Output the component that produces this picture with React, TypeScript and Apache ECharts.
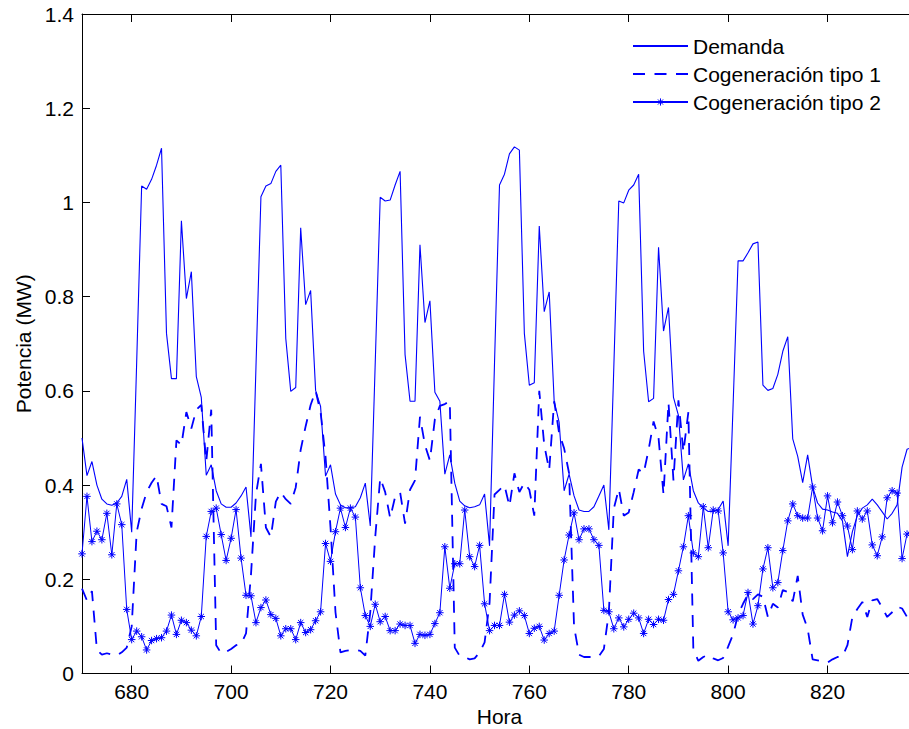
import React, { useEffect, useRef } from 'react';
import * as echarts from 'echarts';

// Hour of the first sample; samples are hourly
const startHour = 670;

const seriesNames = ['Demanda', 'Cogeneración tipo 1', 'Cogeneración tipo 2'];

// Demanda (MW), hours 670..837
const demanda = [
  0.50, 0.42, 0.45, 0.40, 0.37, 0.36, 0.357, 0.362, 0.376, 0.412,
  0.30, 0.66, 1.035, 1.028, 1.049, 1.079, 1.115, 0.722, 0.626, 0.626,
  0.961, 0.796, 0.853, 0.630, 0.586, 0.421, 0.443, 0.388, 0.360, 0.353,
  0.353, 0.362, 0.377, 0.396, 0.290, 0.65, 1.012, 1.035, 1.040, 1.066,
  1.079, 0.711, 0.599, 0.607, 0.946, 0.783, 0.813, 0.601, 0.567, 0.419,
  0.443, 0.381, 0.358, 0.352, 0.352, 0.354, 0.373, 0.404, 0.313, 0.66,
  1.011, 1.003, 1.005, 1.037, 1.066, 0.677, 0.578, 0.578, 0.910, 0.745,
  0.791, 0.597, 0.578, 0.423, 0.464, 0.404, 0.366, 0.356, 0.352, 0.354,
  0.358, 0.381, 0.271, 0.66, 1.037, 1.060, 1.103, 1.118, 1.111, 0.722,
  0.612, 0.617, 0.950, 0.768, 0.810, 0.578, 0.533, 0.388, 0.423, 0.377,
  0.347, 0.344, 0.344, 0.354, 0.377, 0.400, 0.305, 0.65, 1.003, 0.999,
  1.026, 1.037, 1.060, 0.684, 0.577, 0.584, 0.905, 0.727, 0.777, 0.586,
  0.548, 0.411, 0.445, 0.388, 0.362, 0.351, 0.344, 0.344, 0.348, 0.366,
  0.271, 0.57, 0.876, 0.876, 0.893, 0.912, 0.916, 0.612, 0.601, 0.605,
  0.635, 0.684, 0.715, 0.498, 0.461, 0.405, 0.464, 0.396, 0.362, 0.349,
  0.347, 0.343, 0.340, 0.324, 0.248, 0.301, 0.335, 0.351, 0.358, 0.370,
  0.358, 0.343, 0.328, 0.340, 0.358, 0.438, 0.476, 0.48,
];

// Cogeneración tipo 1 (MW), hours 670..837
const cogenTipo1 = [
  0.18, 0.155, 0.175, 0.05, 0.04, 0.043, 0.04, 0.038, 0.045, 0.055,
  0.10, 0.30, 0.35, 0.385, 0.405, 0.42, 0.36, 0.355, 0.31, 0.495,
  0.485, 0.555, 0.52, 0.56, 0.57, 0.45, 0.56, 0.06, 0.043, 0.046,
  0.052, 0.06, 0.063, 0.085, 0.21, 0.38, 0.445, 0.31, 0.29, 0.365,
  0.385, 0.37, 0.36, 0.395, 0.475, 0.525, 0.57, 0.60, 0.555, 0.46,
  0.31, 0.13, 0.045, 0.048, 0.05, 0.05, 0.048, 0.038, 0.13, 0.29,
  0.415, 0.385, 0.33, 0.375, 0.385, 0.318, 0.39, 0.41, 0.545, 0.485,
  0.452, 0.54, 0.568, 0.572, 0.578, 0.055, 0.037, 0.035, 0.03, 0.032,
  0.045, 0.066, 0.15, 0.38, 0.39, 0.40, 0.355, 0.425, 0.385, 0.405,
  0.39, 0.335, 0.60, 0.485, 0.432, 0.578, 0.51, 0.478, 0.425, 0.10,
  0.04, 0.035, 0.035, 0.035, 0.037, 0.052, 0.13, 0.35, 0.392, 0.335,
  0.342, 0.385, 0.433, 0.425, 0.475, 0.535, 0.50, 0.38, 0.575, 0.41,
  0.58, 0.47, 0.555, 0.05, 0.027, 0.035, 0.04, 0.032, 0.028, 0.033,
  0.057, 0.083, 0.125, 0.148, 0.168, 0.158, 0.168, 0.163, 0.12, 0.148,
  0.14, 0.177, 0.173, 0.153, 0.207, 0.125, 0.095, 0.03, 0.028, 0.026,
  0.023, 0.03, 0.035, 0.036, 0.06, 0.12, 0.137, 0.152, 0.12, 0.155,
  0.158, 0.14, 0.12, 0.13, 0.142, 0.138, 0.12, 0.11,
];

// Cogeneración tipo 2 (MW), hours 670..837
const cogenTipo2 = [
  0.254, 0.376, 0.280, 0.302, 0.284, 0.340, 0.252, 0.360, 0.316, 0.136,
  0.072, 0.090, 0.078, 0.050, 0.070, 0.074, 0.076, 0.090, 0.124, 0.083,
  0.113, 0.108, 0.092, 0.080, 0.121, 0.291, 0.344, 0.351, 0.295, 0.240,
  0.287, 0.348, 0.245, 0.166, 0.165, 0.108, 0.140, 0.156, 0.125, 0.117,
  0.080, 0.095, 0.095, 0.072, 0.108, 0.087, 0.093, 0.112, 0.131, 0.276,
  0.238, 0.301, 0.351, 0.310, 0.351, 0.332, 0.182, 0.123, 0.100, 0.147,
  0.110, 0.121, 0.091, 0.091, 0.105, 0.102, 0.102, 0.064, 0.083, 0.081,
  0.083, 0.106, 0.129, 0.269, 0.181, 0.233, 0.233, 0.347, 0.248, 0.227,
  0.272, 0.148, 0.091, 0.102, 0.102, 0.168, 0.109, 0.124, 0.133, 0.123,
  0.085, 0.096, 0.100, 0.071, 0.085, 0.090, 0.166, 0.241, 0.294, 0.341,
  0.284, 0.307, 0.307, 0.284, 0.272, 0.134, 0.131, 0.095, 0.118, 0.099,
  0.115, 0.128, 0.118, 0.085, 0.115, 0.104, 0.115, 0.113, 0.157, 0.168,
  0.218, 0.269, 0.335, 0.256, 0.248, 0.354, 0.267, 0.347, 0.345, 0.256,
  0.131, 0.114, 0.118, 0.123, 0.172, 0.105, 0.144, 0.222, 0.267, 0.182,
  0.193, 0.261, 0.324, 0.360, 0.335, 0.330, 0.330, 0.396, 0.330, 0.303,
  0.377, 0.320, 0.364, 0.335, 0.313, 0.263, 0.345, 0.328, 0.345, 0.273,
  0.250, 0.290, 0.373, 0.388, 0.383, 0.244, 0.296, 0.30,
];

const xMin = 670;
const xMax = 838;
const yMin = 0;
const yMax = 1.4;
const yStep = 0.2;
const xStep = 20;

const FONT = '"Liberation Sans", Arial, Helvetica, sans-serif';
const BLUE = '#0000ff';
const ASTERISK =
  'path://M0,-5L0,5M-5,0L5,0M-3.54,-3.54L3.54,3.54M-3.54,3.54L3.54,-3.54';

const toPairs = (vals: number[]) => vals.map((v, i) => [startHour + i, v]);

const axisLineStyle = { show: true, onZero: false, lineStyle: { color: '#000', width: 1 } };
const tickStyle = { show: true, inside: true, length: 8, lineStyle: { color: '#000', width: 1 } };

export default function App() {
  const ref = useRef<HTMLDivElement>(null);

  useEffect(() => {
    if (!ref.current) return;
    const chart = echarts.init(ref.current, null, { renderer: 'svg' });
    const textBase = { fontFamily: FONT, fontSize: 21, color: '#000' };

    chart.setOption({
      animation: false,
      backgroundColor: '#ffffff',
      grid: {
        left: 82,
        top: 14,
        right: -8,
        bottom: 55.5,
        containLabel: false,
        outerBoundsMode: 'none',
      },
      legend: {
        show: true,
        orient: 'vertical',
        left: 632,
        top: 35.5,
        padding: 0,
        itemWidth: 55,
        itemHeight: 9,
        itemGap: 7,
        selectedMode: false,
        textStyle: { ...textBase, lineHeight: 21 },
        data: [
          { name: seriesNames[0], itemStyle: { opacity: 0 } },
          { name: seriesNames[1], itemStyle: { opacity: 0 } },
          {
            name: seriesNames[2],
            itemStyle: { color: BLUE, borderColor: BLUE, borderWidth: 1 },
          },
        ],
      },
      xAxis: [
        {
          type: 'value',
          min: xMin,
          max: xMax,
          splitNumber: 8,
          minInterval: xStep,
          maxInterval: xStep,
          axisLine: axisLineStyle,
          axisTick: tickStyle,
          axisLabel: {
            ...textBase,
            margin: 7,
            showMinLabel: false,
            showMaxLabel: false,
          },
          splitLine: { show: false },
          name: 'Hora',
          nameLocation: 'middle',
          nameGap: 30,
          nameTextStyle: textBase,
        },
        {
          type: 'value',
          position: 'top',
          min: xMin,
          max: xMax,
          splitNumber: 8,
          minInterval: xStep,
          maxInterval: xStep,
          axisLine: axisLineStyle,
          axisTick: tickStyle,
          axisLabel: { show: false },
          splitLine: { show: false },
        },
      ],
      yAxis: [
        {
          type: 'value',
          min: yMin,
          max: yMax,
          interval: yStep,
          axisLine: axisLineStyle,
          axisTick: tickStyle,
          axisLabel: { ...textBase, margin: 8 },
          splitLine: { show: false },
          name: 'Potencia (MW)',
          nameLocation: 'middle',
          nameGap: 45,
          nameTextStyle: textBase,
        },
        {
          type: 'value',
          position: 'right',
          min: yMin,
          max: yMax,
          interval: yStep,
          axisLine: axisLineStyle,
          axisTick: tickStyle,
          axisLabel: { show: false },
          splitLine: { show: false },
        },
      ],
      series: [
        {
          name: seriesNames[0],
          type: 'line',
          data: toPairs(demanda),
          symbol: 'none',
          silent: true,
          lineStyle: { color: BLUE, width: 1.1 },
          itemStyle: { color: BLUE },
          emphasis: { disabled: true },
        },
        {
          name: seriesNames[1],
          type: 'line',
          data: toPairs(cogenTipo1),
          symbol: 'none',
          silent: true,
          lineStyle: { color: BLUE, width: 1.8, type: [12, 9.5], cap: 'butt' },
          itemStyle: { color: BLUE },
          emphasis: { disabled: true },
        },
        {
          name: seriesNames[2],
          type: 'line',
          data: toPairs(cogenTipo2),
          symbol: ASTERISK,
          symbolSize: 7.5,
          showSymbol: true,
          showAllSymbol: true,
          silent: true,
          lineStyle: { color: BLUE, width: 1 },
          itemStyle: { color: BLUE, borderColor: BLUE, borderWidth: 1 },
          emphasis: { disabled: true },
        },
      ],
    });

    return () => chart.dispose();
  }, []);

  return (
    <div
      ref={ref}
      style={{
        position: 'absolute',
        left: 0,
        top: 0,
        width: 909,
        height: 729,
        background: '#fff',
      }}
    />
  );
}
